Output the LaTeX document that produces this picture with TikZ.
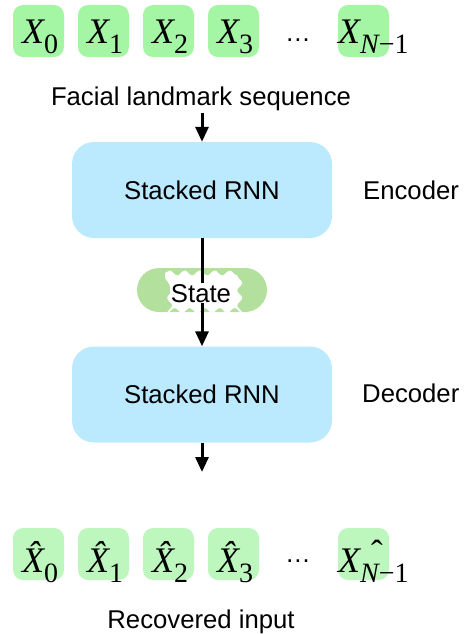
\documentclass[tikz,border=0pt]{standalone}
\usepackage{fontspec}
\setmainfont{Liberation Sans}
\newfontfamily\serif{Liberation Serif}
\usetikzlibrary{arrows.meta,decorations.pathmorphing}
\definecolor{topg}{RGB}{164,246,164}
\definecolor{botg}{RGB}{190,247,190}
\definecolor{rnnblue}{RGB}{187,233,253}
\definecolor{pillg}{RGB}{180,224,158}
\newcommand\Xsub[1]{{\serif\fontsize{36}{36}\selectfont\itshape X}\raisebox{-10pt}{\serif\fontsize{28}{28}\selectfont #1}}
\newcommand\Xhsub[1]{{\serif\fontsize{36}{36}\selectfont\itshape \^{X}}\raisebox{-10pt}{\serif\fontsize{28}{28}\selectfont #1}}
\newcommand\hatover{\makebox[0pt][l]{\hspace{33pt}\raisebox{8pt}{\serif\fontsize{35}{35}\selectfont ˆ}}}
\begin{document}
\begin{tikzpicture}[x=1pt,y=-1pt,
  sq/.style={rounded corners=10pt},
  lbl/.style={font=\fontsize{25.7}{26}\selectfont, inner sep=0pt},
  sym/.style={anchor=base west, inner sep=0pt},
  rnn/.style={fill=rnnblue, rounded corners=22pt, minimum width=260pt, minimum height=96pt, inner sep=0pt, font=\fontsize{25.7}{26}\selectfont},
  conn/.style={line width=3pt, -{Triangle[length=15pt,width=13pt]}}
]
\useasboundingbox (0,0) rectangle (464,634);
% boxes
\foreach \i/\x in {0/13,1/78,2/143,3/208,4/338}{
  \fill[topg, sq] (\x,5) rectangle ++(51,52);
  \fill[botg, sq] (\x,528) rectangle ++(51,52);
}
\node[sym] (t0) at (22,44) {\Xsub{0}};
\node[sym] (t1) at (87,44) {\Xsub{1}};
\node[sym] (t2) at (152,44) {\Xsub{2}};
\node[sym] (t3) at (217,44) {\Xsub{3}};
\node[lbl] (tdots) at (298,40) {…};
\node[sym] (t4) at (338,44) {\Xsub{{\itshape N}−1}};

\node[sym] (b0) at (22,572) {\Xhsub{0}};
\node[sym] (b1) at (87,572) {\Xhsub{1}};
\node[sym] (b2) at (152,572) {\Xhsub{2}};
\node[sym] (b3) at (217,572) {\Xhsub{3}};
\node[lbl] (bdots) at (298,561) {…};
\node[sym] (b4) at (338,572) {\hatover\Xsub{{\itshape N}−1}};

\node[lbl, anchor=base, inner sep=2pt] (seq) at (201,105) {Facial landmark sequence};
\node[rnn] (enc) at (202,190) {Stacked RNN};
\node[lbl, anchor=base west] (enclbl) at (363,199) {Encoder};
\node[rnn] (dec) at (202,394.5) {Stacked RNN};
\node[lbl, anchor=base west] (declbl) at (362,402) {Decoder};
\node[lbl, anchor=base] (rec) at (201,628) {Recovered input};

% state
\node[fill=pillg, rounded corners=22pt, minimum width=130pt, minimum height=44pt, inner sep=0pt] (state) at (202,290) {};
\path[fill=white, decorate, decoration={snake, amplitude=2.5pt, segment length=15pt}] (165,273) -- (237,273) -- (237,309) -- (165,309) -- cycle;

\coordinate (out) at (202,472);
\draw[conn] (seq.south -| enc.north) -- (enc.north);
\draw[conn] (enc.south) -- (dec.north);
\draw[conn] (dec.south) -- (out);

\node[lbl, anchor=base, fill=white, inner sep=1pt] (statelbl) at (201,302) {State};
\end{tikzpicture}
\end{document}
